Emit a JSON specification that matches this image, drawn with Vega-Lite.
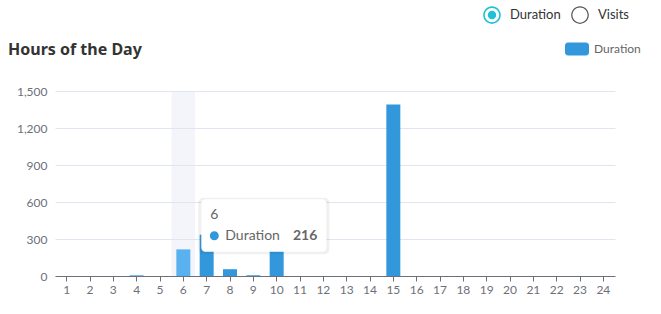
{
  "$schema": "https://vega.github.io/schema/vega-lite/v6.json",
  "width": 560,
  "height": 185,
  "autosize": {"type": "none"},
  "padding": {"left": 55, "top": 91, "right": 46, "bottom": 38},
  "background": "white",
  "config": {"view": {"stroke": null}, "font": "Lato"},
  "title": {"text": "Hours of the Day", "anchor": "start", "frame": "group", "dx": -47, "offset": 0, "dy": 52, "fontSize": 16, "fontWeight": "bold", "color": "#333333", "font": "Noto Sans"},
  "datasets": {
    "hours": [
      {"hour": 1, "duration": 0}, {"hour": 2, "duration": 0}, {"hour": 3, "duration": 0},
      {"hour": 4, "duration": 5}, {"hour": 5, "duration": 0}, {"hour": 6, "duration": 216},
      {"hour": 7, "duration": 335}, {"hour": 8, "duration": 55}, {"hour": 9, "duration": 6},
      {"hour": 10, "duration": 240}, {"hour": 11, "duration": 0}, {"hour": 12, "duration": 0},
      {"hour": 13, "duration": 0}, {"hour": 14, "duration": 0}, {"hour": 15, "duration": 1390},
      {"hour": 16, "duration": 0}, {"hour": 17, "duration": 0}, {"hour": 18, "duration": 0},
      {"hour": 19, "duration": 0}, {"hour": 20, "duration": 0}, {"hour": 21, "duration": 0},
      {"hour": 22, "duration": 0}, {"hour": 23, "duration": 0}, {"hour": 24, "duration": 0}
    ],
    "options": [{"option": "Duration"}, {"option": "Visits"}]
  },
  "data": {"name": "hours"},
  "layer": [
    {
      "transform": [{"filter": "datum.hour == 6"}],
      "mark": {"type": "bar", "color": "#dfe3f0", "opacity": 0.35, "width": {"band": 1.6667}},
      "encoding": {
        "x": {
          "field": "hour", "type": "ordinal", "title": null,
          "scale": {"paddingInner": 0.4, "paddingOuter": 0.2},
          "axis": {"labelAngle": 0, "labelColor": "#6e7079", "labelFontSize": 12, "domainColor": "#6e7079", "tickColor": "#6e7079", "tickSize": 5, "labelPadding": 3, "grid": false, "bandPosition": 0.5, "labelAlign": "center"}
        }
      }
    },
    {
      "mark": {"type": "bar"},
      "encoding": {
        "x": {"field": "hour", "type": "ordinal"},
        "y": {
          "field": "duration", "type": "quantitative", "title": null,
          "scale": {"domain": [0, 1500], "nice": false},
          "axis": {"values": [0, 300, 600, 900, 1200, 1500], "format": ",d", "labelOverlap": false, "grid": true, "gridColor": "#E0E6F1", "domain": false, "ticks": false, "labelPadding": 8, "labelColor": "#6e7079", "labelFontSize": 12}
        },
        "color": {
          "datum": "Duration",
          "scale": {"domain": ["Duration"], "range": ["#3398DB"]},
          "condition": {"test": "datum.hour == 6", "value": "#5ab1ef"},
          "legend": {
            "title": null, "orient": "none", "legendX": 510, "legendY": -54, "padding": 0,
            "symbolType": "M-0.75,-0.54 H0.75 A0.25,0.25 0 0 1 1,-0.29 V0.29 A0.25,0.25 0 0 1 0.75,0.54 H-0.75 A0.25,0.25 0 0 1 -1,0.29 V-0.29 A0.25,0.25 0 0 1 -0.75,-0.54 Z",
            "symbolSize": 576, "symbolStrokeWidth": 0, "labelFontSize": 12, "labelColor": "#666666", "labelOffset": 5
          }
        }
      }
    },
    {
      "data": {"name": "options"},
      "mark": {"type": "point", "filled": true, "opacity": 1, "size": 0},
      "encoding": {
        "fill": {
          "field": "option", "type": "nominal",
          "scale": {"domain": ["Duration", "Visits"], "range": ["#1fc1d8", "#555555"]},
          "legend": {
            "title": null, "orient": "none", "direction": "horizontal", "legendX": 428, "legendY": -85, "padding": 0,
            "symbolSize": 310, "symbolStrokeWidth": 0, "symbolOpacity": 1, "labelFontSize": 13, "labelColor": "#333333", "labelOffset": 9, "columnPadding": 10
          }
        },
        "shape": {
          "field": "option", "type": "nominal",
          "scale": {"domain": ["Duration", "Visits"], "range": [
            "M1,0 A1,1 0 1 1 -1,0 A1,1 0 1 1 1,0 Z M0.82,0 A0.82,0.82 0 1 0 -0.82,0 A0.82,0.82 0 1 0 0.82,0 Z M0.48,0 A0.48,0.48 0 1 1 -0.48,0 A0.48,0.48 0 1 1 0.48,0 Z",
            "M1,0 A1,1 0 1 1 -1,0 A1,1 0 1 1 1,0 Z M0.86,0 A0.86,0.86 0 1 0 -0.86,0 A0.86,0.86 0 1 0 0.86,0 Z"
          ]}
        }
      }
    },
    {
      "transform": [{"filter": "datum.hour == 6"}],
      "encoding": {
        "x": {"field": "hour", "type": "ordinal"},
        "y": {
          "field": "duration", "type": "quantitative", "title": null,
          "axis": {"values": [0, 300, 600, 900, 1200, 1500], "format": ",d", "labelOverlap": false, "grid": true, "gridColor": "#E0E6F1", "domain": false, "ticks": false, "labelPadding": 8, "labelColor": "#6e7079", "labelFontSize": 12}
        }
      },
      "layer": [
        {
          "mark": {"type": "point", "filled": true, "fill": "#000000", "opacity": 0.06, "size": 40000,
            "shape": "M0.20,-0.515 H1.41 A0.05,0.05 0 0 1 1.46,-0.465 V0.00 A0.05,0.05 0 0 1 1.41,0.05 H0.20 A0.05,0.05 0 0 1 0.15,0.00 V-0.465 A0.05,0.05 0 0 1 0.20,-0.515 Z"}
        },
        {
          "mark": {"type": "point", "filled": true, "fill": "#ffffff", "stroke": "#e8e8e8", "strokeWidth": 0.01, "opacity": 1, "size": 40000,
            "shape": "M0.22,-0.5 H1.39 A0.04,0.04 0 0 1 1.43,-0.46 V-0.017 A0.04,0.04 0 0 1 1.39,0.023 H0.22 A0.04,0.04 0 0 1 0.18,-0.017 V-0.46 A0.04,0.04 0 0 1 0.22,-0.5 Z"}
        },
        {
          "mark": {"type": "point", "filled": true, "fill": "#3398DB", "opacity": 1, "size": 40000,
            "shape": "M0.355,-0.137 A0.045,0.045 0 1 1 0.265,-0.137 A0.045,0.045 0 1 1 0.355,-0.137 Z"}
        },
        {
          "mark": {"type": "text", "align": "left", "baseline": "middle", "dx": 27, "dy": -34.5, "fontSize": 14, "color": "#666666"},
          "encoding": {"text": {"field": "hour", "type": "ordinal"}}
        },
        {
          "mark": {"type": "text", "align": "left", "baseline": "middle", "dx": 42, "dy": -13.7, "fontSize": 14, "color": "#666666", "text": "Duration"}
        },
        {
          "mark": {"type": "text", "align": "right", "baseline": "middle", "dx": 134, "dy": -13.7, "fontSize": 14, "fontWeight": "bold", "color": "#666666"},
          "encoding": {"text": {"field": "duration", "type": "quantitative"}}
        }
      ]
    }
  ]
}
